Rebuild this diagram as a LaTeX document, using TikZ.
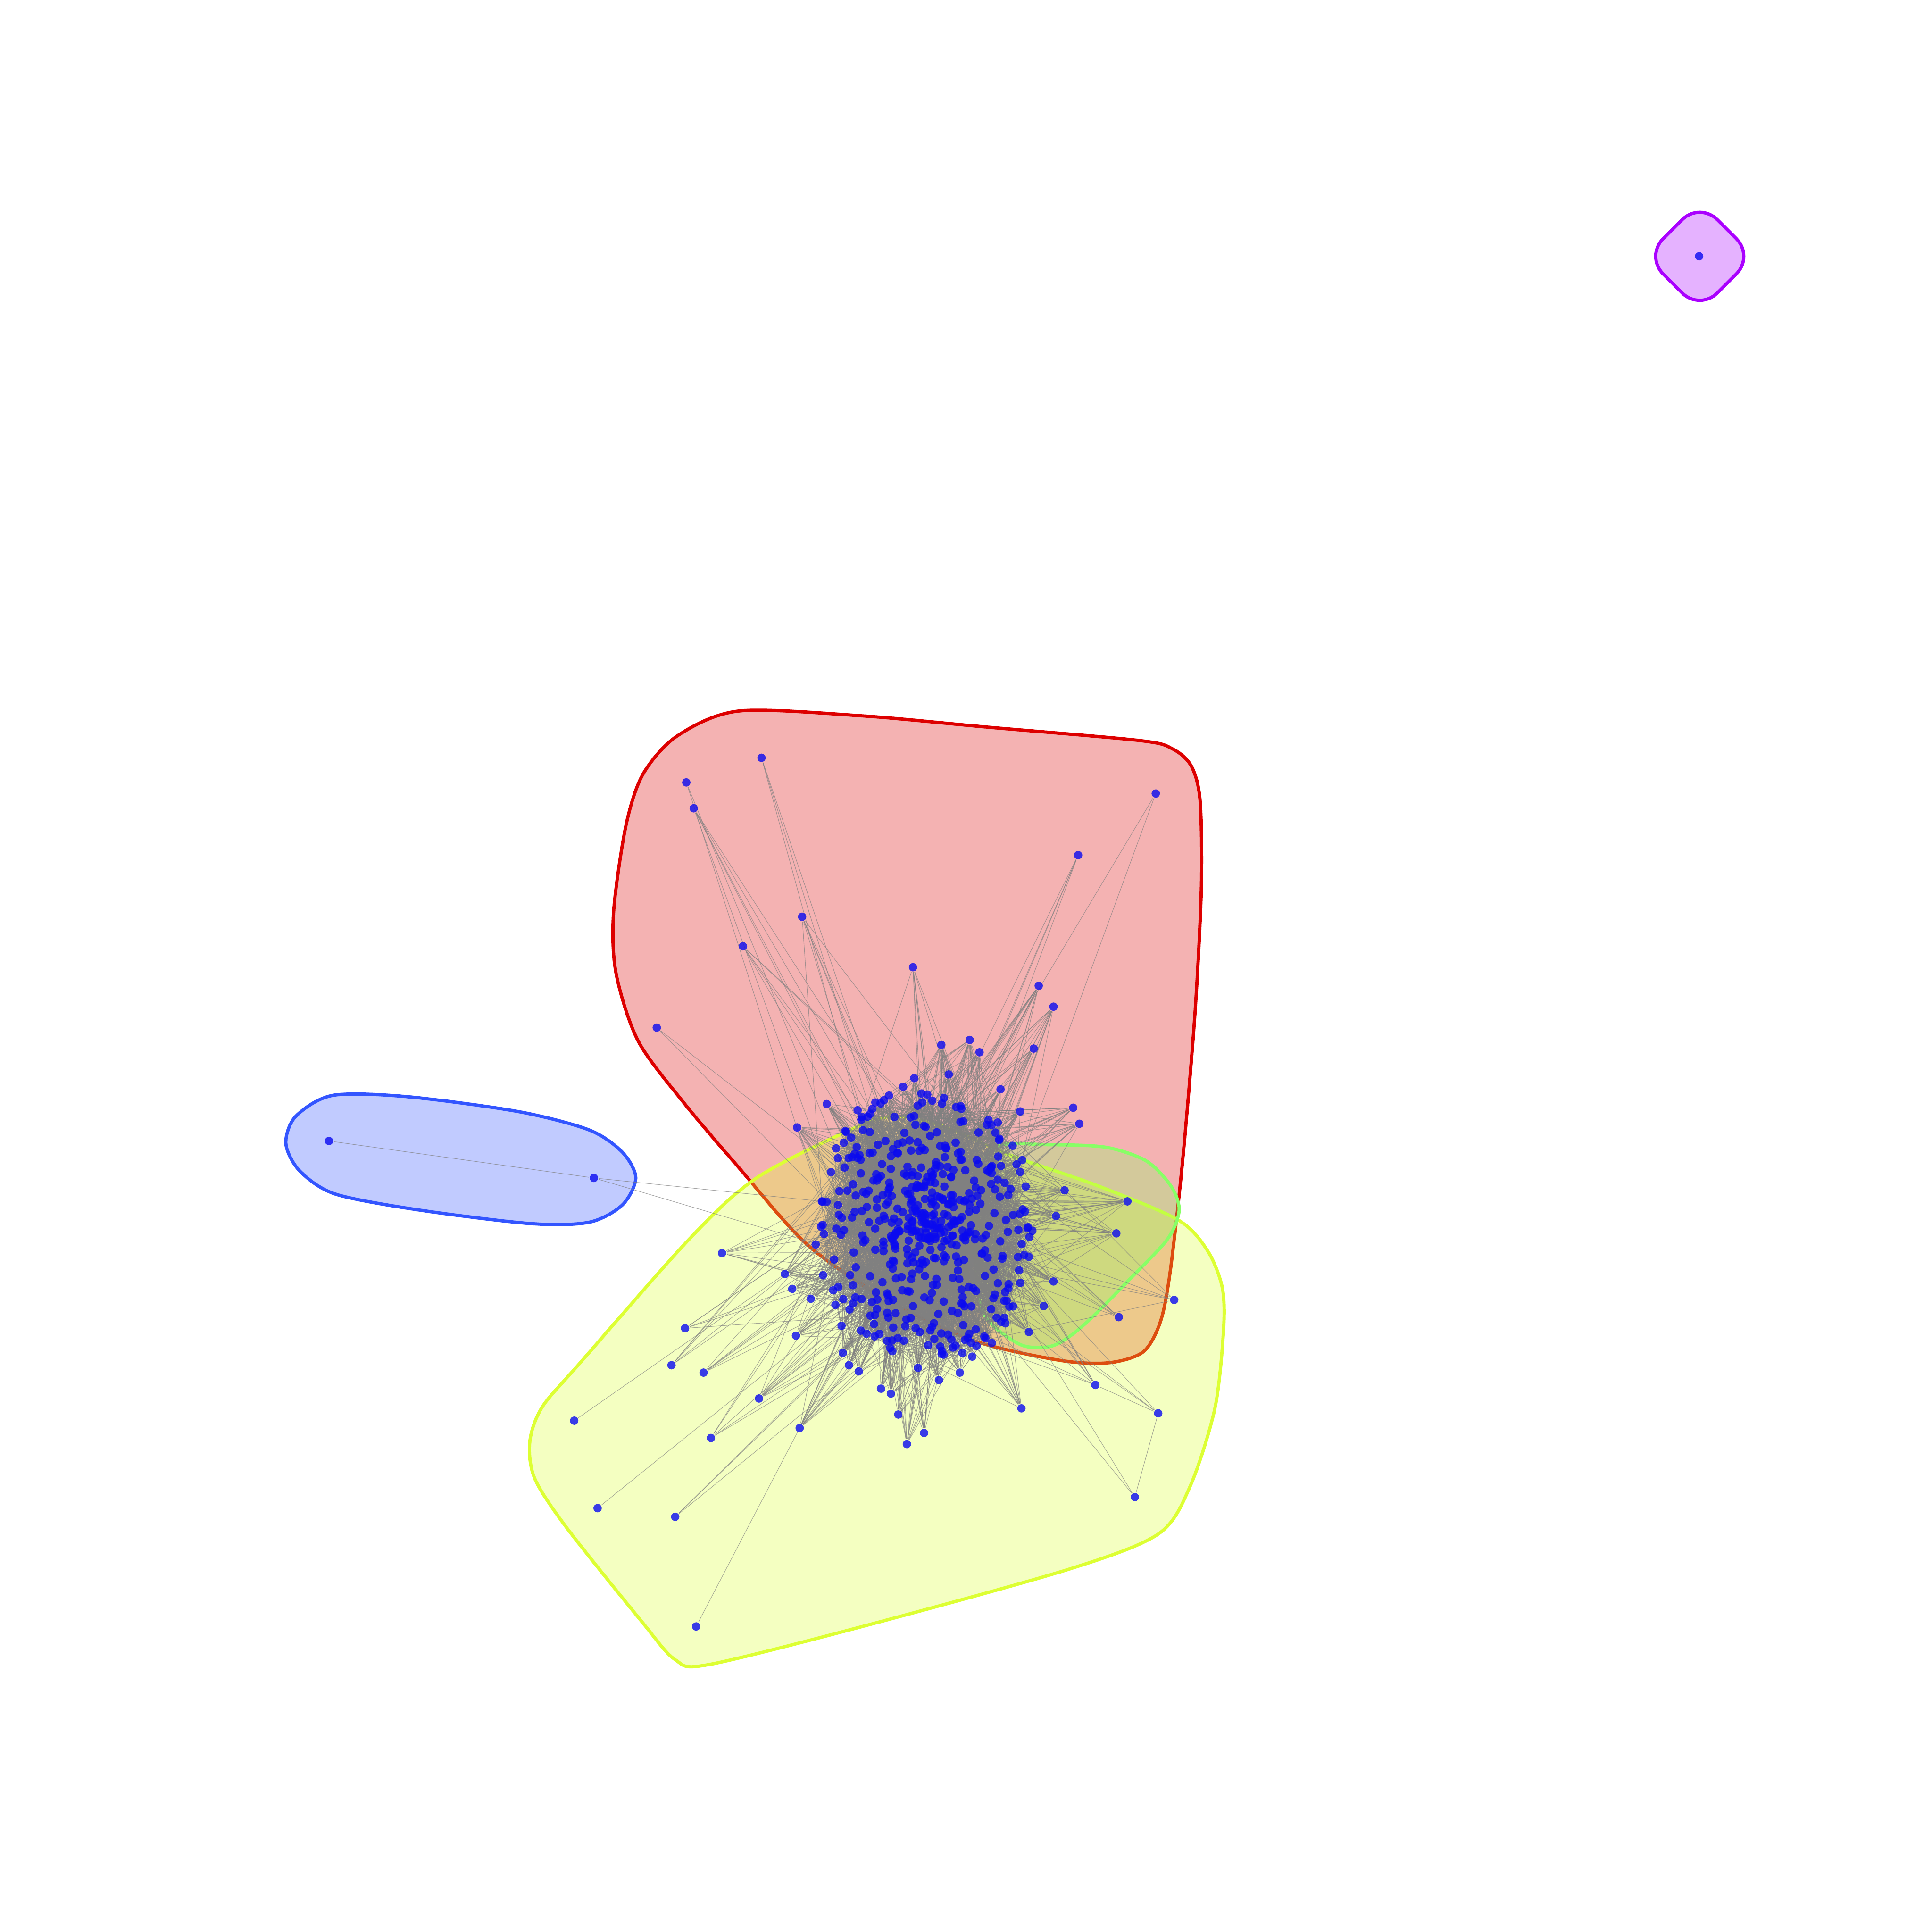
\documentclass[tikz,border=0pt]{standalone}
\pgfdeclarelayer{hulls}
\pgfdeclarelayer{edges}
\pgfsetlayers{hulls,edges,main}
\definecolor{hred}{RGB}{221,0,0}
\definecolor{hyel}{RGB}{221,255,51}
\definecolor{hgrn}{RGB}{136,255,102}
\definecolor{hblu}{RGB}{51,85,255}
\definecolor{hpur}{RGB}{170,0,255}
\definecolor{dotc}{RGB}{10,10,240}
\tikzset{
 dot/.style={circle, fill=dotc, fill opacity=0.8, draw=none, inner sep=0pt, minimum size=0.068cm},
 edge/.style={draw=gray, line width=0.12pt, opacity=0.7},
 hull/.style={line width=0.75pt, fill opacity=0.3, line join=round},
}
\def\plist{p1/618/615/3, p2/557/635/2, p3/563/656/5, p4/938/644/2, p5/875/694/4, p6/651/744/6, p7/603/768/5, p8/741/785/8, p9/843/800/12, p10/855/817/12, p11/533/834/2, p12/839/851/10,
f1/764/848/22, f2/787/844/22, f3/795/854/18, f4/742/875/20, f5/671/896/20, f6/696/901/18, f7/708/900/18, f8/686/918/18, f9/828/902/18, p13/871/899/14, p14/876/912/14, p15/647/915/18,
f10/667/975/18, g1/915/975/18, g2/906/1001/15, g3/864/966/18, g4/857/987/18, g5/855/1040/18, y20/953/1055/6, n1/908/1069/6, g7/847/1060/18, g6/835/1081/18, y17/889/1124/8, y16/829/1143/14,
y2/637/1034/18, f11/643/1046/15, f12/658/1054/15, f13/646/1084/15, f14/678/1059/15, f15/683/1076/15, f16/684/1098/18, f17/689/1108/18, f18/697/1113/18, f19/715/1127/18, f20/723/1131/18, f21/762/1120/18, f22/779/1114/18, f23/789/1101/18, f24/781/1098/15, f25/816/1074/15,
f26/733/882/15, f27/770/872/15, f28/812/884/15, f29/680/940/15, f30/825/945/15, f31/662/1010/15, f32/835/1020/15, f33/668/1035/15, f34/745/1110/18, f35/805/1090/15,
y1/586/1017/10, y3/556/1078/5, y4/545/1108/5, y5/571/1114/6, y6/616/1135/10, y7/466/1153/1, y8/577/1167/5, y9/649/1159/15, y10/485/1224/1, y11/548/1231/3, y13/736/1172/14, y14/750/1163/12, y15/729/1148/12, y18/940/1147/3, y19/921/1215/2}
\begin{document}
\begin{tikzpicture}[x=0.01cm,y=-0.01cm]
\useasboundingbox (0,0) rectangle (1568,1568);
\begin{pgfonlayer}{hulls}
\fill[white] (0,0) rectangle (1568,1568);
% red hull
\draw[hull, draw=hred, fill=hred] plot[smooth cycle, tension=0.5] coordinates {
(600,577) (700,581) (800,590) (925,601) (952,608) (967,622) (974,650) (975,720) (970,820) (960,940) (950,1030) (942,1072) (928,1097) (900,1106) (860,1104) (790,1088) (720,1055) (655,1010) (600,948) (555,895) (518,845) (500,790) (498,740) (508,670) (522,628) (550,597)};
% yellow hull
\draw[hull, draw=hyel, fill=hyel] plot[smooth cycle, tension=0.5] coordinates {
(956,990) (980,1015) (992,1045) (993,1080) (986,1143) (966,1206) (940,1245) (866,1274) (700,1320) (575,1351) (548,1347) (520,1315) (460,1240) (434,1200) (430,1170) (440,1142) (470,1107) (560,1005) (614,956) (690,917) (725,906) (765,914) (821,938) (890,962)};
% green hull
\draw[hull, draw=hgrn, fill=hgrn] plot[smooth cycle, tension=0.5] coordinates {
(810,930) (850,929) (897,931) (930,942) (950,962) (957,982) (948,1005) (920,1035) (880,1075) (855,1092) (830,1092) (805,1075) (795,1055) (790,1000) (792,955)};
% blue hull
\draw[hull, draw=hblu, fill=hblu] plot[smooth cycle, tension=0.5] coordinates {
(270,889) (330,890) (420,902) (478,917) (505,935) (516,956) (505,978) (478,992) (430,993) (340,982) (272,969) (243,950) (232,928) (240,906)};
% purple hull
\draw[hull, draw=hpur, fill=hpur, rounded corners=0.2cm] (1379.5,164) -- (1423.5,208) -- (1379.5,252) -- (1335.5,208) -- cycle;
\end{pgfonlayer}
\pgfmathsetseed{4242}
% central cluster
\foreach \i in {1,...,480}{
  \pgfmathsetmacro\rr{rnd^0.75}
  \pgfmathsetmacro\aa{360*rnd}
  \pgfmathsetmacro\cx{752+88*\rr*cos(\aa)}
  \pgfmathsetmacro\cy{993+112*\rr*sin(\aa)}
  \node[dot] (c\i) at (\cx,\cy) {};
}
% outer nodes
\foreach \n/\x/\y/\d in \plist { \node[dot] (\n) at (\x,\y) {}; }
\node[dot] (y12) at (565,1320) {};
\node[dot] (b1) at (267,926) {};
\node[dot] (b2) at (482,956) {};
\node[dot] (q1) at (1379,208) {};
\begin{pgfonlayer}{edges}
\foreach \k in {1,...,4200}{
  \pgfmathtruncatemacro\a{random(1,480)}
  \pgfmathtruncatemacro\b{random(1,480)}
  \draw[edge] (c\a) -- (c\b);
}
\foreach \n/\x/\y/\d in \plist {
  \foreach \k in {1,...,\d}{
    \pgfmathtruncatemacro\a{random(1,480)}
    \draw[edge] (\n) -- (c\a);
  }
}
\draw[edge] (y12) -- (y9);
\draw[edge] (y17) -- (y18);
\draw[edge] (y18) -- (y19);
\draw[edge] (b1) -- (b2);
\draw[edge] (b2) -- (f10);
\draw[edge] (b2) -- (c17);
\end{pgfonlayer}
\end{tikzpicture}
\end{document}
